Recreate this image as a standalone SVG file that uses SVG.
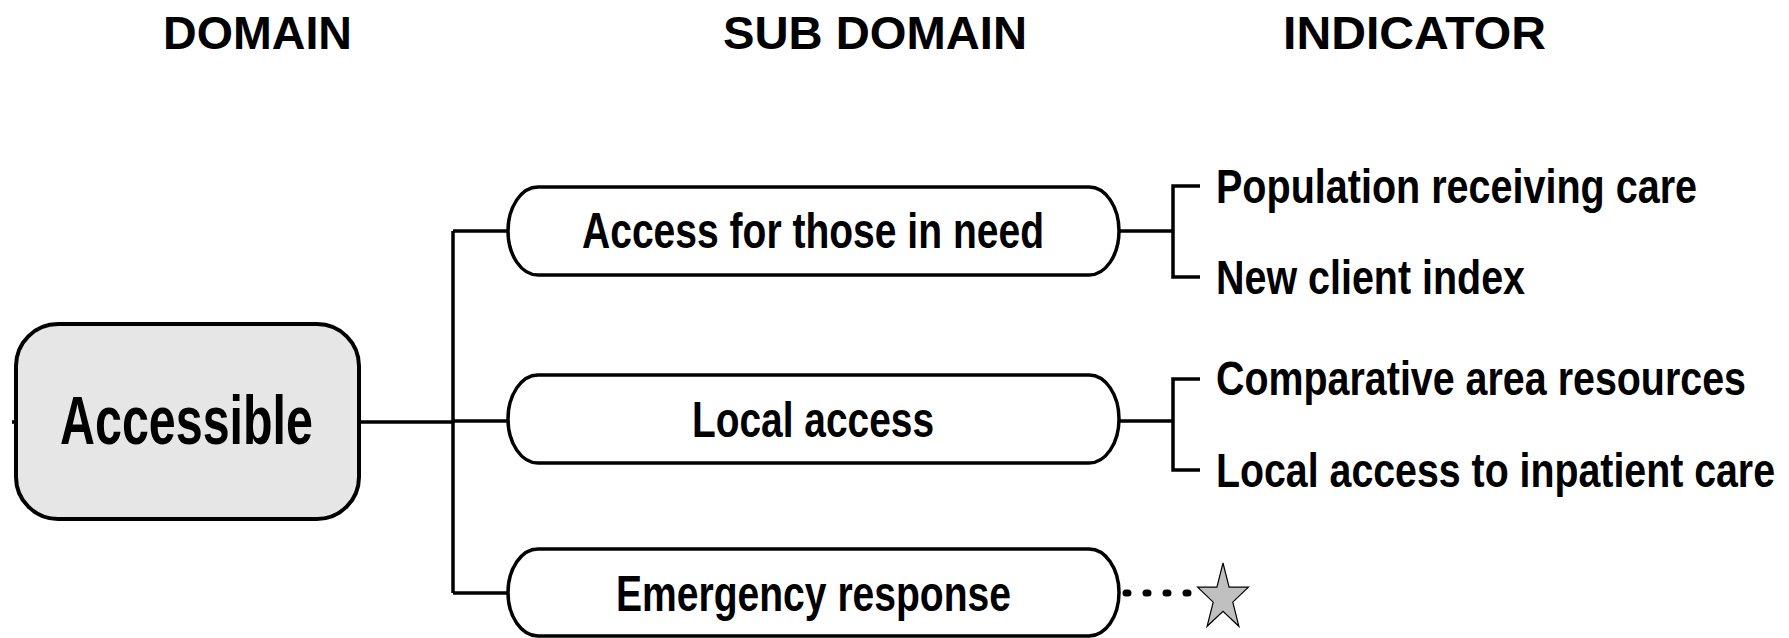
<svg xmlns="http://www.w3.org/2000/svg" width="1789" height="638" viewBox="0 0 1789 638">
  <style>
    .hdr { font-family: "Liberation Sans", Arial, sans-serif; font-weight: bold; font-size: 47px; fill: #000; text-anchor: middle; }
    .lbl { font-family: "Liberation Sans", Arial, sans-serif; font-weight: bold; fill: #000; }
    .box { fill: #fff; stroke: #000; stroke-width: 3.5; }
    .root { fill: #e6e6e6; stroke: #000; stroke-width: 4; }
    .wire { fill: none; stroke: #000; stroke-width: 3.5; }
  </style>
  <rect width="1789" height="638" fill="#fff"/>

  <!-- column headings -->
  <g id="headings">
    <text class="hdr" x="257.5" y="49" textLength="189" lengthAdjust="spacingAndGlyphs">DOMAIN</text>
    <text class="hdr" x="875" y="49" textLength="304" lengthAdjust="spacingAndGlyphs">SUB DOMAIN</text>
    <text class="hdr" x="1414.5" y="49" textLength="263" lengthAdjust="spacingAndGlyphs">INDICATOR</text>
  </g>

  <!-- connectors -->
  <g id="connectors">
    <path class="wire" d="M12 422 H16"/>
    <path class="wire" d="M359 422 H453" stroke-width="4.5"/>
    <path class="wire" d="M453 231 V593"/>
    <path class="wire" d="M453 231 H508 M453 421 H508 M453 593 H508"/>
    <!-- indicator brackets -->
    <path class="wire" d="M1119 231 H1173 M1200 186 H1173 V277 H1200"/>
    <path class="wire" d="M1119 421 H1173 M1200 379 H1173 V470 H1200"/>
    <!-- pending indicator -->
    <path d="M1126 593 H1200" fill="none" stroke="#000" stroke-width="7" stroke-linecap="round" stroke-dasharray="2 18"/>
  </g>

  <!-- domain -->
  <g id="node-accessible">
    <rect class="root" x="16" y="324" width="343" height="195" rx="42" ry="42"/>
    <text class="lbl" x="60" y="444" font-size="69" textLength="253" lengthAdjust="spacingAndGlyphs">Accessible</text>
  </g>

  <!-- sub domains -->
  <g id="node-access-need">
    <rect class="box" x="508" y="187" width="611" height="88" rx="30" ry="44"/>
    <text class="lbl" x="582" y="248" font-size="50" textLength="462" lengthAdjust="spacingAndGlyphs">Access for those in need</text>
  </g>
  <g id="node-local-access">
    <rect class="box" x="508" y="375" width="611" height="88" rx="30" ry="44"/>
    <text class="lbl" x="692" y="437" font-size="50" textLength="242" lengthAdjust="spacingAndGlyphs">Local access</text>
  </g>
  <g id="node-emergency">
    <rect class="box" x="508" y="549" width="611" height="87" rx="30" ry="43.5"/>
    <text class="lbl" x="616" y="611" font-size="50" textLength="395" lengthAdjust="spacingAndGlyphs">Emergency response</text>
  </g>

  <!-- indicators -->
  <g id="ind-population">
    <text class="lbl" x="1216" y="203" font-size="49" textLength="481" lengthAdjust="spacingAndGlyphs">Population receiving care</text>
  </g>
  <g id="ind-new-client">
    <text class="lbl" x="1216" y="294" font-size="49" textLength="309" lengthAdjust="spacingAndGlyphs">New client index</text>
  </g>
  <g id="ind-comparative">
    <text class="lbl" x="1216" y="395" font-size="49" textLength="530" lengthAdjust="spacingAndGlyphs">Comparative area resources</text>
  </g>
  <g id="ind-local-inpatient">
    <text class="lbl" x="1216" y="487" font-size="49" textLength="559" lengthAdjust="spacingAndGlyphs">Local access to inpatient care</text>
  </g>
  <g id="ind-pending">
    <polygon points="1223,563 1229.1,587.2 1248.4,587.2 1232.8,602.1 1238.9,626.3 1223,611.4 1207.1,626.3 1213.2,602.1 1197.6,587.2 1216.9,587.2" fill="#c0c0c0" stroke="#000" stroke-width="1.2" stroke-linejoin="miter"/>
  </g>
</svg>
